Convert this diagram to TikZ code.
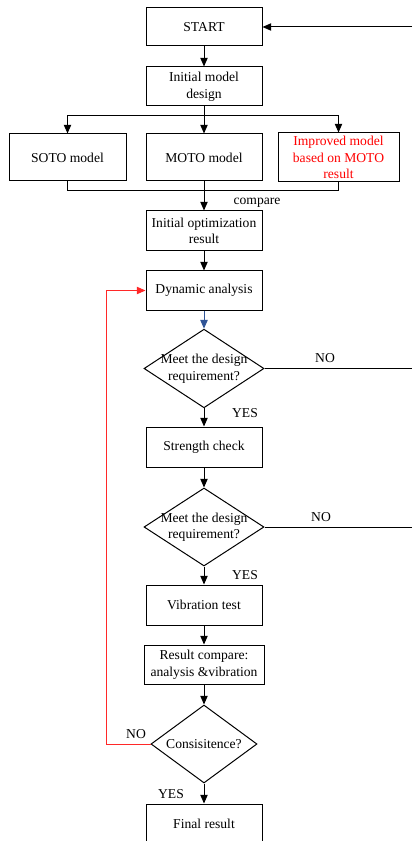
\documentclass[tikz,border=0pt]{standalone}
\usepackage{fontspec}
\setmainfont{Liberation Serif}
\usepackage{xcolor}
\usetikzlibrary{arrows.meta,shapes.geometric}

\begin{document}
\begin{tikzpicture}[x=0.75pt,y=0.75pt,yscale=-1,xscale=1,
  font=\fontsize{10.2pt}{12.4pt}\selectfont,
  box/.style={draw,rectangle,line width=0.75pt,inner sep=0pt,align=center,minimum width=87pt,minimum height=29.25pt},
  decide/.style={draw,diamond,line width=0.75pt,inner sep=0pt,minimum width=90pt,minimum height=59pt},
  arr/.style={line width=0.75pt,-{Triangle[length=6.5pt,width=5.5pt]}},
  link/.style={line width=0.75pt}]
\clip (0,0) rectangle (412,841);

% Boxes
\draw (204,27) node [box,minimum height=28.5pt] (start) {START};
\draw (204,86.5) node [box] (init) {Initial model\\design};
\draw (67.5,157.5) node [box,minimum width=87.75pt,minimum height=35.25pt] (soto) {SOTO model};
\draw (204,157.5) node [box,minimum height=35.25pt] (moto) {MOTO model};
\draw (338.5,157.5) node [box,minimum width=90.75pt,minimum height=36.75pt,text={rgb, 255:red, 255; green, 0; blue, 0}] (impr) {Improved model\\based on MOTO\\result};
\draw (204,231) node [box,minimum height=30pt] (opt) {Initial optimization\\result};
\draw (204,290.5) node [box] (dyn) {Dynamic analysis};
\draw (204,368.5) node [decide,label={[align=center]center:Meet the design\\requirement?}] (dec1) {};
\draw (204,447) node [box,minimum height=30pt] (str) {Strength check};
\draw (204,527) node [decide,minimum height=58.5pt,label={[align=center]center:Meet the design\\requirement?}] (dec2) {};
\draw (204,605) node [box,minimum height=30pt] (vib) {Vibration test};
\draw (204,664.5) node [box,minimum width=90pt] (cmp) {Result compare:\\analysis \&vibration};
\draw (204,744) node [decide,minimum width=79.5pt,minimum height=58.5pt,label={center:Consisitence?}] (dec3) {};
\draw (204,823.5) node [box] (fin) {Final result};

% Free ends
\coordinate (back) at (412,27);
\coordinate (split) at (204,116);
\coordinate (join) at (204,190.5);
\coordinate (out1) at (412,368.5);
\coordinate (out2) at (412,527);

% Connectors
\draw [arr] (back) -- (start);
\draw [arr] (start) -- (init);
\draw [link] (init) -- (split);
\draw [arr] (split) -| (soto);
\draw [arr] (split) -- (moto);
\draw [arr] (split) -| (impr);
\draw [link] (soto.south) -- (soto.south |- join) -- (impr.south |- join) -- (impr.south);
\draw [arr] (moto) -- (opt);
\draw [arr] (opt) -- (dyn);
\draw [arr,color={rgb, 255:red, 47; green, 84; blue, 150}] (dyn) -- (dec1);
\draw [link] (dec1.east) -- (out1);
\draw [arr] (dec1) -- (str);
\draw [arr] (str) -- (dec2);
\draw [link] (dec2.east) -- (out2);
\draw [arr] (dec2) -- (vib);
\draw [arr] (vib) -- (cmp);
\draw [arr] (cmp) -- (dec3);
\draw [arr] (dec3) -- (fin);
\draw [arr,color={rgb, 255:red, 255; green, 40; blue, 40}] (dec3.west) -- ++(-44,0) |- (dyn.west);

% Text Node
\draw (257,203) node (lcmp) {compare};
\draw (325,358) node (lno1) {NO};
\draw (245,413) node (lyes1) {YES};
\draw (321,517) node (lno2) {NO};
\draw (245,575) node (lyes2) {YES};
\draw (136,734) node (lno3) {NO};
\draw (171,794) node (lyes3) {YES};

\end{tikzpicture}
\end{document}
